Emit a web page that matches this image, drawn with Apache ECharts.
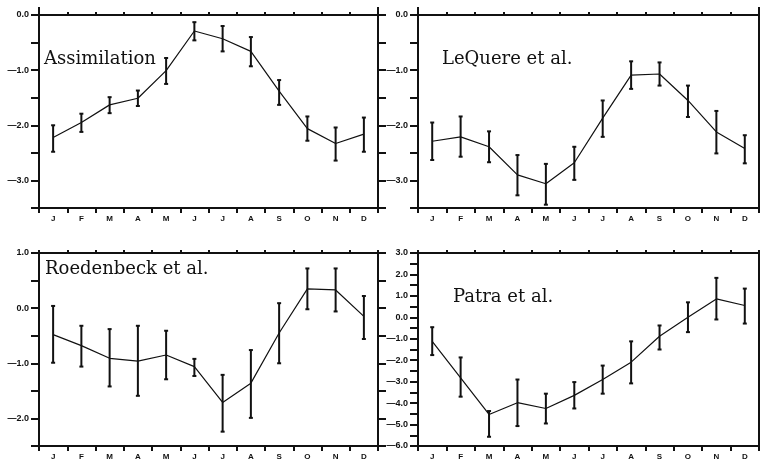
<!DOCTYPE html>
<html>
<head>
<meta charset="utf-8">
<title>seasonal cycle</title>
<script src="https://cdn.jsdelivr.net/npm/echarts@6/dist/echarts.min.js"></script>
<style>
  html, body { margin: 0; padding: 0; background: #fff; }
  #main { width: 760px; height: 466px; }
</style>
</head>
<body>
<div id="main"></div>
<script>
// month letters on x
var months = ["J", "F", "M", "A", "M", "J", "J", "A", "S", "O", "N", "D"];

// Assimilation
var assimVal  = [-2.22, -1.95, -1.63, -1.51, -1.01, -0.29, -0.43, -0.66, -1.38, -2.06, -2.33, -2.16];
var assimLow  = [-2.48, -2.12, -1.78, -1.65, -1.25, -0.46, -0.66, -0.93, -1.63, -2.28, -2.64, -2.48];
var assimHigh = [-2.00, -1.79, -1.49, -1.37, -0.78, -0.13, -0.20, -0.40, -1.18, -1.84, -2.04, -1.86];

// LeQuere et al.
var lequereVal  = [-2.29, -2.21, -2.39, -2.90, -3.06, -2.68, -1.87, -1.09, -1.07, -1.55, -2.12, -2.42];
var lequereLow  = [-2.63, -2.57, -2.67, -3.27, -3.44, -2.99, -2.21, -1.34, -1.28, -1.85, -2.51, -2.69];
var lequereHigh = [-1.95, -1.84, -2.11, -2.54, -2.70, -2.39, -1.55, -0.84, -0.86, -1.28, -1.74, -2.18];

// Roedenbeck et al.
var roedVal  = [-0.48, -0.68, -0.91, -0.96, -0.85, -1.06, -1.71, -1.36, -0.45, 0.35, 0.33, -0.15];
var roedLow  = [-0.99, -1.06, -1.42, -1.59, -1.29, -1.23, -2.24, -1.99, -1.00, -0.02, -0.06, -0.56];
var roedHigh = [0.04, -0.32, -0.38, -0.32, -0.41, -0.92, -1.21, -0.76, 0.09, 0.72, 0.72, 0.22];

// Patra et al.
var patraVal  = [-1.12, -2.82, -4.53, -3.98, -4.25, -3.64, -2.90, -2.09, -0.88, 0.00, 0.86, 0.55];
var patraLow  = [-1.76, -3.70, -5.57, -5.07, -4.95, -4.25, -3.56, -3.08, -1.50, -0.69, -0.10, -0.29];
var patraHigh = [-0.46, -1.87, -4.37, -2.90, -3.56, -3.02, -2.25, -1.12, -0.38, 0.70, 1.84, 1.34];

var panels = [
  { name: "Assimilation", val: assimVal, low: assimLow, high: assimHigh,
    min: -3.5, max: 0, grid: { left: 39, top: 15, width: 339, height: 193 }, title: { left: 44, top: 50 } },
  { name: "LeQuere et al.", val: lequereVal, low: lequereLow, high: lequereHigh,
    min: -3.5, max: 0, grid: { left: 418, top: 15, width: 341, height: 193 }, title: { left: 442, top: 50 } },
  { name: "Roedenbeck et al.", val: roedVal, low: roedLow, high: roedHigh,
    min: -2.5, max: 1, grid: { left: 39, top: 253, width: 339, height: 193 }, title: { left: 45, top: 260 } },
  { name: "Patra et al.", val: patraVal, low: patraLow, high: patraHigh,
    min: -6, max: 3, grid: { left: 418, top: 253, width: 341, height: 193 }, title: { left: 453, top: 288 } }
];

var ink = "#111";
var xFont = { fontFamily: "Liberation Sans", fontWeight: "bold", fontSize: 8, color: ink };
var yFont = { fontFamily: "Liberation Sans", fontWeight: "bold", fontSize: 9, color: ink };

// only whole numbers get a label, minus drawn long
function yLabel(v) {
  if (Math.abs(v - Math.round(v)) > 1e-6) return "";
  return (v < -1e-9 ? "\u2014" : "") + Math.abs(v).toFixed(1);
}

// vertical bar with small caps
function renderErrorBar(params, api) {
  var i = api.value(0);
  var hi = api.coord([i, api.value(2)]);
  var lo = api.coord([i, api.value(1)]);
  var cap = 2;
  var style = { stroke: ink, lineWidth: 2 };
  return {
    type: "group",
    children: [
      { type: "line", shape: { x1: hi[0], y1: hi[1], x2: lo[0], y2: lo[1] }, style: style },
      { type: "line", shape: { x1: hi[0] - cap, y1: hi[1], x2: hi[0] + cap, y2: hi[1] }, style: style },
      { type: "line", shape: { x1: lo[0] - cap, y1: lo[1], x2: lo[0] + cap, y2: lo[1] }, style: style }
    ]
  };
}

var option = {
  animation: false,
  backgroundColor: "#fff",
  title: [],
  grid: [],
  xAxis: [],
  yAxis: [],
  series: []
};

panels.forEach(function (p, k) {
  option.grid.push(p.grid);
  option.title.push({
    text: p.name, left: p.title.left, top: p.title.top, padding: 0,
    textStyle: { fontFamily: "DejaVu Serif", fontWeight: "normal", fontSize: 18, color: ink }
  });

  var line = { show: true, onZero: false, lineStyle: { color: ink, width: 2 } };
  // bottom axis with labels
  option.xAxis.push({
    type: "category", gridIndex: k, position: "bottom", data: months, boundaryGap: true,
    axisLine: line,
    axisTick: { show: true, inside: false, length: 5, lineStyle: { color: ink, width: 2 } },
    axisLabel: Object.assign({ margin: 7, interval: 0 }, xFont),
    splitLine: { show: false }
  });
  // top axis, short ticks
  option.xAxis.push({
    type: "category", gridIndex: k, position: "top", data: months, boundaryGap: true,
    axisLine: line,
    axisTick: { show: true, inside: false, length: 3, lineStyle: { color: ink, width: 2 } },
    axisLabel: { show: false },
    splitLine: { show: false }
  });
  // top axis, long ticks at the two corners only
  option.xAxis.push({
    type: "category", gridIndex: k, position: "top", data: months, boundaryGap: true,
    axisLine: { show: false },
    axisTick: { show: true, inside: false, length: 8, interval: function (i) { return i === 0; },
      lineStyle: { color: ink, width: 2 } },
    axisLabel: { show: false },
    splitLine: { show: false }
  });

  option.yAxis.push({
    type: "value", gridIndex: k, position: "left", min: p.min, max: p.max, interval: 0.5,
    axisLine: line,
    axisTick: { show: true, inside: false, length: 8, lineStyle: { color: ink, width: 2 } },
    axisLabel: Object.assign({ margin: 10, formatter: yLabel }, yFont),
    splitLine: { show: false }
  });
  option.yAxis.push({
    type: "value", gridIndex: k, position: "right", min: p.min, max: p.max, interval: 0.5,
    axisLine: line,
    axisTick: { show: true, inside: false, length: 8, lineStyle: { color: ink, width: 2 } },
    axisLabel: { show: false },
    splitLine: { show: false }
  });

  option.series.push({
    type: "line", xAxisIndex: 3 * k, yAxisIndex: 2 * k, data: p.val,
    symbol: "none", lineStyle: { color: ink, width: 1.2 }, z: 3
  });
  option.series.push({
    type: "custom", xAxisIndex: 3 * k, yAxisIndex: 2 * k,
    data: months.map(function (m, i) { return [i, p.low[i], p.high[i]]; }),
    encode: { x: 0, y: [1, 2] },
    renderItem: renderErrorBar, z: 4
  });
});

var myChart = echarts.init(document.getElementById("main"));
myChart.setOption(option);
</script>
</body>
</html>
